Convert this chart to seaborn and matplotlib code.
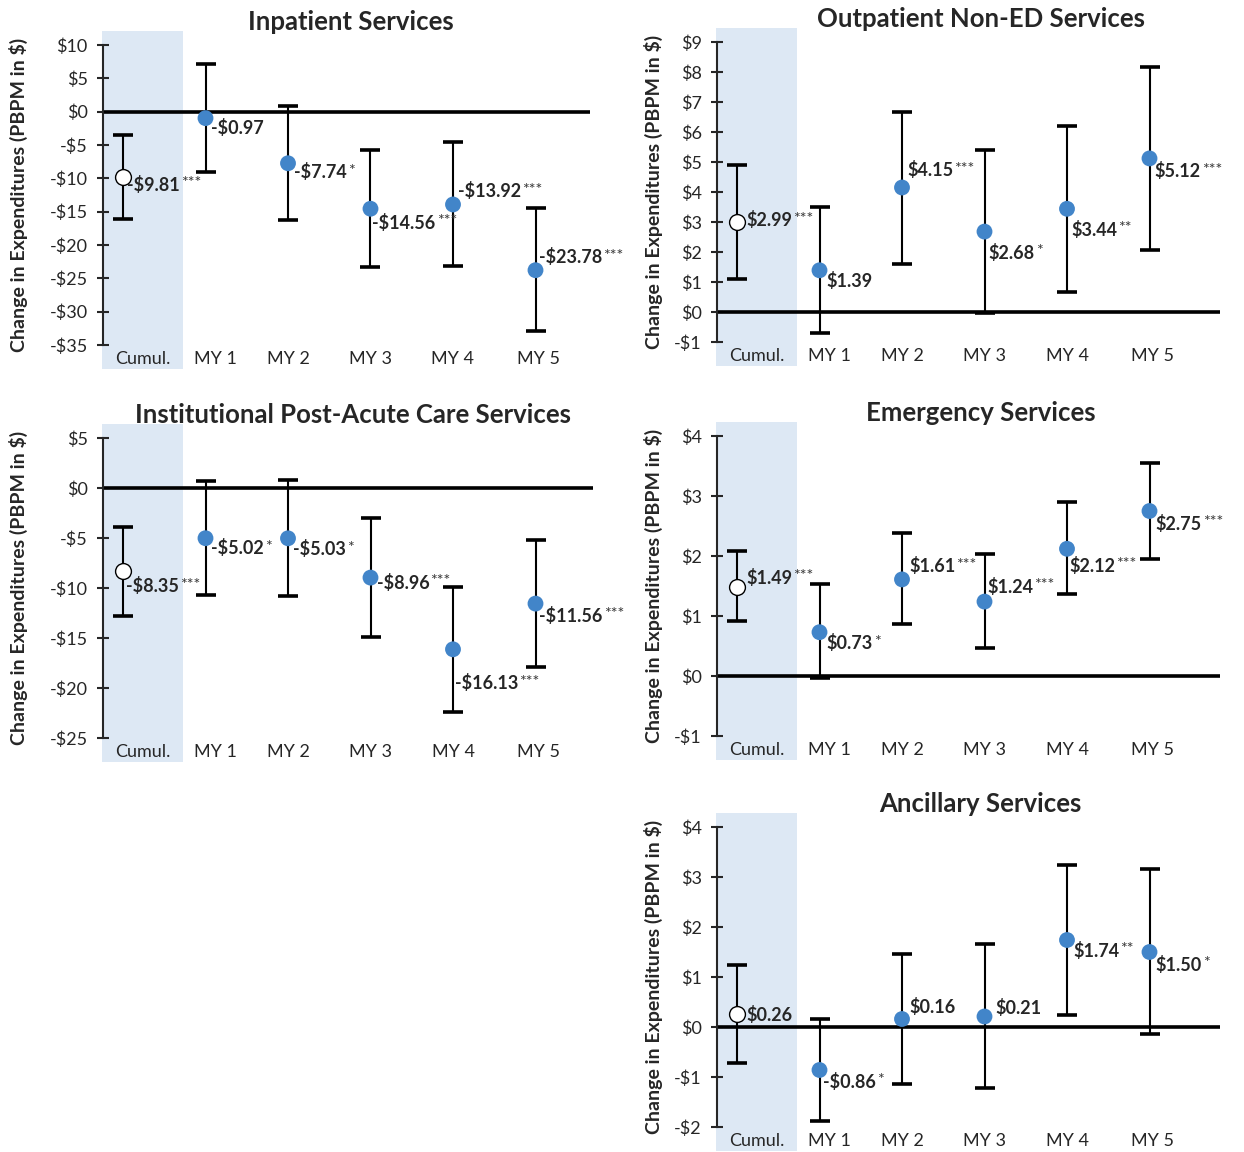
import numpy as np
import pandas as pd
import seaborn as sns
import matplotlib.pyplot as plt
import matplotlib.transforms as mtransforms
from matplotlib.patches import Rectangle
from matplotlib.ticker import FuncFormatter, MultipleLocator

# -----------------------------
# Data (PBPM change estimates with 90% CIs)
# -----------------------------
periods = ["Cumul.", "MY 1", "MY 2", "MY 3", "MY 4", "MY 5"]

inpatient_est = [-9.81, -0.97, -7.74, -14.56, -13.92, -23.78]
inpatient_lo = [-16.1, -9.1, -16.3, -23.3, -23.1, -32.9]
inpatient_hi = [-3.5, 7.1, 0.9, -5.7, -4.5, -14.5]
inpatient_sig = ["***", "", "*", "***", "***", "***"]

outpatient_est = [2.99, 1.39, 4.15, 2.68, 3.44, 5.12]
outpatient_lo = [1.11, -0.71, 1.61, -0.02, 0.68, 2.08]
outpatient_hi = [4.89, 3.49, 6.68, 5.39, 6.21, 8.16]
outpatient_sig = ["***", "", "***", "*", "**", "***"]

pac_est = [-8.35, -5.02, -5.03, -8.96, -16.13, -11.56]
pac_lo = [-12.8, -10.7, -10.8, -14.9, -22.4, -17.9]
pac_hi = [-3.9, 0.7, 0.8, -3.0, -9.9, -5.2]
pac_sig = ["***", "*", "*", "***", "***", "***"]

emergency_est = [1.49, 0.73, 1.61, 1.24, 2.12, 2.75]
emergency_lo = [0.92, -0.04, 0.86, 0.46, 1.37, 1.95]
emergency_hi = [2.08, 1.53, 2.38, 2.04, 2.90, 3.55]
emergency_sig = ["***", "*", "***", "***", "***", "***"]

ancillary_est = [0.26, -0.86, 0.16, 0.21, 1.74, 1.50]
ancillary_lo = [-0.71, -1.87, -1.13, -1.21, 0.25, -0.13]
ancillary_hi = [1.24, 0.17, 1.46, 1.67, 3.25, 3.16]
ancillary_sig = ["", "*", "", "", "**", "*"]

# -----------------------------
# Layout: axes rect (fig px), y-range, label offsets (px right, px down)
# -----------------------------
W, H = 1244, 1152

panels = [
    dict(title="Inpatient Services", est=inpatient_est, lo=inpatient_lo, hi=inpatient_hi,
         sig=inpatient_sig, ylim=(-35, 10), step=5, rect=(103, 45, 487, 300), ylab_x=28,
         title_x=0.51, offs=[(4, 8), (5, 10), (6, 9), (2, 14), (5, -13), (3, -13)]),
    dict(title="Outpatient Non-ED Services", est=outpatient_est, lo=outpatient_lo, hi=outpatient_hi,
         sig=outpatient_sig, ylim=(-1, 9), step=1, rect=(717, 42, 503, 300), ylab_x=663,
         title_x=0.524, offs=[(9, -2), (7, 11), (5, -17), (4, 21), (4, 21), (5, 13)]),
    dict(title="Institutional Post-Acute Care Services", est=pac_est, lo=pac_lo, hi=pac_hi,
         sig=pac_sig, ylim=(-25, 5), step=5, rect=(103, 438, 490, 300), ylab_x=28,
         title_x=0.51, offs=[(3, 15), (6, 10), (5, 11), (6, 5), (2, 34), (4, 12)]),
    dict(title="Emergency Services", est=emergency_est, lo=emergency_lo, hi=emergency_hi,
         sig=emergency_sig, ylim=(-1, 4), step=1, rect=(717, 436, 503, 300), ylab_x=663,
         title_x=0.524, offs=[(9, -9), (7, 11), (7, -13), (3, -15), (2, 17), (6, 13)]),
    dict(title="Ancillary Services", est=ancillary_est, lo=ancillary_lo, hi=ancillary_hi,
         sig=ancillary_sig, ylim=(-2, 4), step=1, rect=(717, 827, 503, 300), ylab_x=663,
         title_x=0.524, offs=[(9, 1), (4, 12), (7, -12), (11, -9), (6, 11), (6, 13)]),
]

label_shift = [0.24, 0.12, 0.0, 0.0, 0.0, 0.04]
spacing = 82.5  # px per category

sns.set_style("ticks")
plt.rcParams["font.family"] = ["Lato", "DejaVu Sans"]

fig = plt.figure(figsize=(W / 100, H / 100), dpi=100)


def money(v, _pos=None):
    return f"-${abs(v):g}" if v < 0 else f"${v:g}"


def money2(v):
    return f"-${abs(v):.2f}" if v < 0 else f"${v:.2f}"


for p in panels:
    x0, y0, w, h = p["rect"]
    ax = fig.add_axes([x0 / W, 1 - (y0 + h) / H, w / W, h / H])

    df = pd.DataFrame({"period": periods, "est": p["est"], "lo": p["lo"], "hi": p["hi"]})
    df["pos"] = np.arange(len(df))

    xmin = -20 / spacing
    ax.set_xlim(xmin, xmin + w / spacing)
    ax.set_ylim(*p["ylim"])

    # shaded cumulative column (extends past the axes)
    band = Rectangle((-0.25, -0.08), 0.98, 1.127,
                     transform=mtransforms.blended_transform_factory(ax.transData, ax.transAxes),
                     facecolor="#dde8f4", edgecolor="none", clip_on=False, zorder=0)
    ax.add_patch(band)

    ax.axhline(0, color="black", lw=2.6, zorder=2)

    ax.errorbar(df["pos"], df["est"], yerr=[df["est"] - df["lo"], df["hi"] - df["est"]],
                fmt="none", ecolor="black", elinewidth=1.5, capsize=7.5, capthick=2.6, zorder=3)

    sns.scatterplot(data=df[df["period"] != "Cumul."], x="pos", y="est", ax=ax,
                    color="#4285c9", s=130, edgecolor="none", zorder=4, legend=False)
    sns.scatterplot(data=df[df["period"] == "Cumul."], x="pos", y="est", ax=ax,
                    color="white", s=130, edgecolor="black", linewidth=1.0, zorder=4, legend=False)

    # data labels
    for i, row in df.iterrows():
        dx, dy = p["offs"][i]
        t = ax.annotate(money2(row["est"]), xy=(row["pos"], row["est"]),
                        xytext=(dx, -dy), textcoords="offset pixels",
                        ha="left", va="center", fontsize=13, fontweight="bold", zorder=5)
        if p["sig"][i]:
            ax.annotate(p["sig"][i], xy=(1, 0.98), xycoords=t, xytext=(1, 0),
                        textcoords="offset pixels", ha="left", va="top",
                        fontsize=11.5, color="#3a3a3a", zorder=5)

    ax.yaxis.set_major_locator(MultipleLocator(p["step"]))
    ax.yaxis.set_major_formatter(FuncFormatter(money))
    ax.set_xticks(df["pos"] + np.array(label_shift), labels=periods)
    ax.tick_params(axis="x", length=0, pad=4, labelsize=13)
    ax.tick_params(axis="y", direction="inout", length=8, width=1.5, labelsize=13, pad=7)

    sns.despine(ax=ax, bottom=True)
    ax.spines["left"].set_linewidth(1.5)
    ax.set_xlabel("")
    ax.set_ylabel("Change in Expenditures (PBPM in $)", fontsize=14, fontweight="bold")
    ax.yaxis.set_label_coords((p["ylab_x"] - x0) / w, 0.5)
    ax.set_title(p["title"], fontsize=18.5, fontweight="bold", pad=11, x=p["title_x"])
    ax.patch.set_alpha(0)

plt.savefig("out.png", dpi=100)
